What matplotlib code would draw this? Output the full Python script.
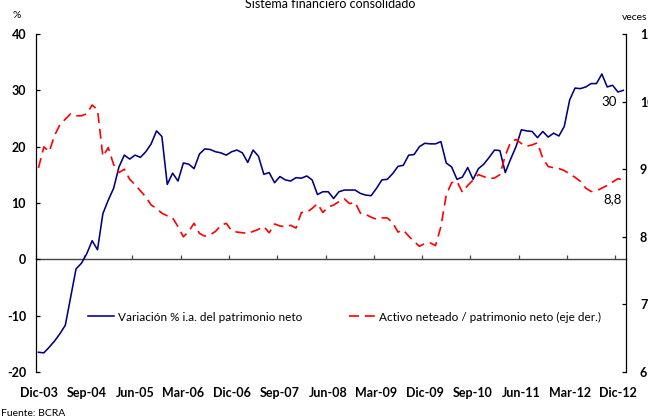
import numpy as np
import matplotlib
matplotlib.use("Agg")
import matplotlib.pyplot as plt

plt.rcParams['font.family'] = ['Lato', 'DejaVu Sans']

# ---- data (monthly, Dic-03 .. Ene-13) ----
# variación % i.a. del patrimonio neto (eje izq., %)
patrimonio_var = [
    -16.5, -16.6, -15.6, -14.5, -13.2, -11.7, -6.7, -1.7, -0.7, 1.0,
    3.3, 1.7, 8.1, 10.5, 12.6, 16.4, 18.5, 17.8, 18.5, 18.1,
    19.1, 20.5, 22.8, 21.8, 13.3, 15.3, 13.9, 17.1, 16.9, 16.1,
    18.7, 19.6, 19.5, 19.1, 18.9, 18.5, 19.1, 19.4, 18.9, 17.2,
    19.4, 18.3, 15.1, 15.4, 13.6, 14.7, 14.1, 13.9, 14.5, 14.4,
    14.8, 14.1, 11.5, 12.0, 12.0, 10.8, 12.0, 12.3, 12.3, 12.3,
    11.7, 11.4, 11.3, 12.6, 14.1, 14.2, 15.2, 16.5, 16.7, 18.5,
    18.6, 20.0, 20.6, 20.5, 20.5, 20.9, 17.1, 16.4, 14.2, 14.6,
    16.3, 14.2, 16.1, 16.9, 18.1, 19.4, 19.3, 15.4, 17.8, 20.0,
    23.0, 22.8, 22.7, 21.6, 22.7, 21.7, 22.4, 21.9, 23.6, 28.3,
    30.4, 30.3, 30.6, 31.2, 31.2, 32.9, 30.6, 30.9, 29.7, 30.0,
]
# activo neteado / patrimonio neto (eje der., veces)
apalancamiento = [
    9.02, 9.33, 9.26, 9.50, 9.66, 9.74, 9.82, 9.79, 9.79, 9.82,
    9.95, 9.88, 9.19, 9.32, 9.07, 8.95, 9.00, 8.85, 8.77, 8.68,
    8.59, 8.47, 8.42, 8.35, 8.31, 8.28, 8.15, 8.00, 8.08, 8.20,
    8.05, 8.01, 8.03, 8.08, 8.17, 8.20, 8.09, 8.07, 8.06, 8.05,
    8.08, 8.11, 8.15, 8.06, 8.19, 8.16, 8.15, 8.17, 8.13, 8.36,
    8.36, 8.42, 8.49, 8.36, 8.44, 8.47, 8.52, 8.56, 8.49, 8.51,
    8.35, 8.33, 8.29, 8.26, 8.28, 8.28, 8.21, 8.07, 8.10, 8.01,
    7.93, 7.86, 7.90, 7.91, 7.87, 8.15, 8.62, 8.80, 8.82, 8.66,
    8.76, 8.84, 8.92, 8.89, 8.86, 8.87, 8.92, 9.20, 9.40, 9.44,
    9.38, 9.34, 9.36, 9.39, 9.16, 9.04, 9.02, 9.01, 8.98, 8.93,
    8.88, 8.82, 8.72, 8.67, 8.68, 8.72, 8.76, 8.81, 8.86, 8.84,
]
tick_labels = ["Dic-03", "Sep-04", "Jun-05", "Mar-06", "Dic-06", "Sep-07", "Jun-08",
               "Mar-09", "Dic-09", "Sep-10", "Jun-11", "Mar-12", "Dic-12"]
tick_step = 9
left_ticks = [-20, -10, 0, 10, 20, 30, 40]
right_ticks = [6, 7, 8, 9, 10, 11]
lbl_pat = "Variación % i.a. del patrimonio neto"
lbl_apa = "Activo neteado / patrimonio neto (eje der.)"

BLUE = "#000080"
RED = "#ff0000"
W, H = 648, 419

fig = plt.figure(figsize=(W / 100, H / 100), dpi=100)
ax = fig.add_axes([35.8 / W, 1 - 372 / H, (626 - 35.8) / W, (372 - 34) / H])
ax2 = ax.twinx()

x = np.arange(len(patrimonio_var))
l1, = ax.plot(x, patrimonio_var, color=BLUE, lw=1.15, label=lbl_pat)
l2, = ax2.plot(x, apalancamiento, color=RED, lw=1.2, dashes=(6, 3.5), label=lbl_apa)

ax.set_xlim(-0.5, len(x) - 0.5)
ax.set_ylim(left_ticks[0], left_ticks[-1])
ax2.set_ylim(right_ticks[0], right_ticks[-1])

# spines
for s in ["top", "right", "bottom"]:
    ax.spines[s].set_visible(False)
for s in ["top", "left", "bottom"]:
    ax2.spines[s].set_visible(False)
ax.spines["left"].set_linewidth(0.9)
ax2.spines["right"].set_linewidth(0.9)

# y axes
ax.set_yticks(left_ticks)
ax.set_yticklabels([str(v) for v in left_ticks])
ax.tick_params(axis="y", direction="in", length=3, width=0.9, pad=7, labelsize=9)
ax2.set_yticks(right_ticks)
ax2.set_yticklabels([str(v) for v in right_ticks])
ax2.tick_params(axis="y", direction="in", length=3, width=0.9, pad=10, labelsize=9)

# x labels at the bottom, tick marks on the zero line
pos = x[::tick_step][:len(tick_labels)]
ax.set_xticks(pos)
ax.set_xticklabels(tick_labels)
ax.tick_params(axis="x", length=0, pad=10.5, labelsize=9)

zero = ax.secondary_xaxis((0 - left_ticks[0]) / (left_ticks[-1] - left_ticks[0]))
zero.set_xticks(pos - 0.5)
zero.set_xticklabels([])
zero.tick_params(axis="x", direction="in", length=3, width=0.9, color="#444444")
zero.spines["bottom"].set_color("#444444")
zero.spines["bottom"].set_linewidth(1.0)

for t in ax.get_xticklabels() + ax.get_yticklabels() + ax2.get_yticklabels():
    t.set_fontweight("bold")

# end-of-line labels
ax.text(x[-1] - 1.2, patrimonio_var[-1] - 2.0, "30", ha="right", va="center", fontsize=9.5)
ax2.text(x[-1] - 0.2, apalancamiento[-1] - 0.28, "8,8", ha="right", va="center", fontsize=9.5)

# legends
kw = dict(frameon=False, borderpad=0, borderaxespad=0, handlelength=2.2,
          handletextpad=0.35, fontsize=8.5, loc="center left")
fig.legend(handles=[l1], bbox_to_anchor=(88 / W, 1 - 317 / H), **kw)
fig.legend(handles=[l2], bbox_to_anchor=(349 / W, 1 - 317 / H), **kw)

# texts around
fig.text(330 / W, 1 - 8.5 / H, "Sistema financiero consolidado", ha="center",
         va="baseline", fontsize=9)
fig.text(17 / W, 1 - 15 / H, "%", ha="center", va="center", fontsize=7.5)
fig.text(622 / W, 1 - 17 / H, "veces", ha="left", va="center", fontsize=7.5)
fig.text(1 / W, 1 - 413 / H, "Fuente: BCRA", ha="left", va="center", fontsize=7.5)

fig.savefig("out.png", dpi=100)
